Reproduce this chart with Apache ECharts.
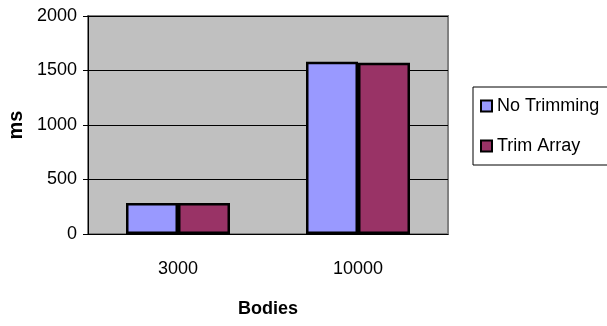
<!DOCTYPE html>
<html>
<head>
<meta charset="utf-8">
<script src="https://cdn.jsdelivr.net/npm/echarts@6/dist/echarts.min.js"></script>
<style>
  html, body { margin: 0; padding: 0; background: #ffffff; }
  #chart { width: 607px; height: 326px; }
</style>
</head>
<body>
<div id="chart"></div>
<script>
// Run times (ms) by number of bodies
const categories = ['3000', '10000'];
const noTrimming = [285, 1580];
const trimArray = [285, 1570];
const seriesNames = ['No Trimming', 'Trim Array'];
const yTicks = { min: 0, max: 2000, interval: 500 };

const font = 'Liberation Sans, Arial, sans-serif';
const chart = echarts.init(document.getElementById('chart'), null, { renderer: 'canvas' });

const barStyle = (color) => ({
  color: color,
  borderColor: '#000000',
  borderWidth: 2.5
});

chart.setOption({
  animation: false,
  backgroundColor: '#ffffff',
  grid: {
    left: 88, right: 159, top: 16, bottom: 92,
    outerBoundsMode: 'none',
    containLabel: false,
    show: true,
    backgroundColor: '#C0C0C0',
    borderColor: '#808080',
    borderWidth: 2
  },
  legend: {
    left: 473, top: 87,
    orient: 'vertical',
    padding: [10, 10, 10, 7],
    itemGap: 22,
    itemWidth: 11,
    itemHeight: 11,
    borderColor: '#000000',
    borderWidth: 1,
    backgroundColor: '#ffffff',
    icon: 'rect',
    textStyle: { fontFamily: font, fontSize: 18, color: '#000000' },
    data: seriesNames
  },
  xAxis: {
    type: 'category',
    data: categories,
    name: 'Bodies',
    nameLocation: 'middle',
    nameGap: 66,
    nameTextStyle: { fontFamily: font, fontSize: 18, fontWeight: 'bold', color: '#000000' },
    axisLine: { lineStyle: { color: '#000000', width: 1 } },
    axisTick: { length: 6, lineStyle: { color: '#000000' } },
    axisLabel: { margin: 26, fontFamily: font, fontSize: 18, color: '#000000' },
    splitLine: { show: false }
  },
  yAxis: {
    type: 'value',
    min: yTicks.min, max: yTicks.max, interval: yTicks.interval,
    name: 'ms',
    nameLocation: 'middle',
    nameRotate: 90,
    nameGap: 62,
    nameTextStyle: { fontFamily: font, fontSize: 20, fontWeight: 'bold', color: '#000000' },
    axisLine: { show: true, lineStyle: { color: '#000000', width: 1 } },
    axisTick: { show: true, length: 5, lineStyle: { color: '#000000' } },
    axisLabel: {
      margin: 11, fontFamily: font, fontSize: 18, color: '#000000',
      formatter: (v) => String(v)
    },
    splitLine: { show: true, lineStyle: { color: '#000000', width: 1 } }
  },
  series: [
    {
      name: seriesNames[0], type: 'bar', data: noTrimming,
      barWidth: 52, barGap: '0%',
      itemStyle: barStyle('#9999FF')
    },
    {
      name: seriesNames[1], type: 'bar', data: trimArray,
      barWidth: 52, barGap: '0%',
      itemStyle: barStyle('#993366')
    }
  ]
});
</script>
</body>
</html>
